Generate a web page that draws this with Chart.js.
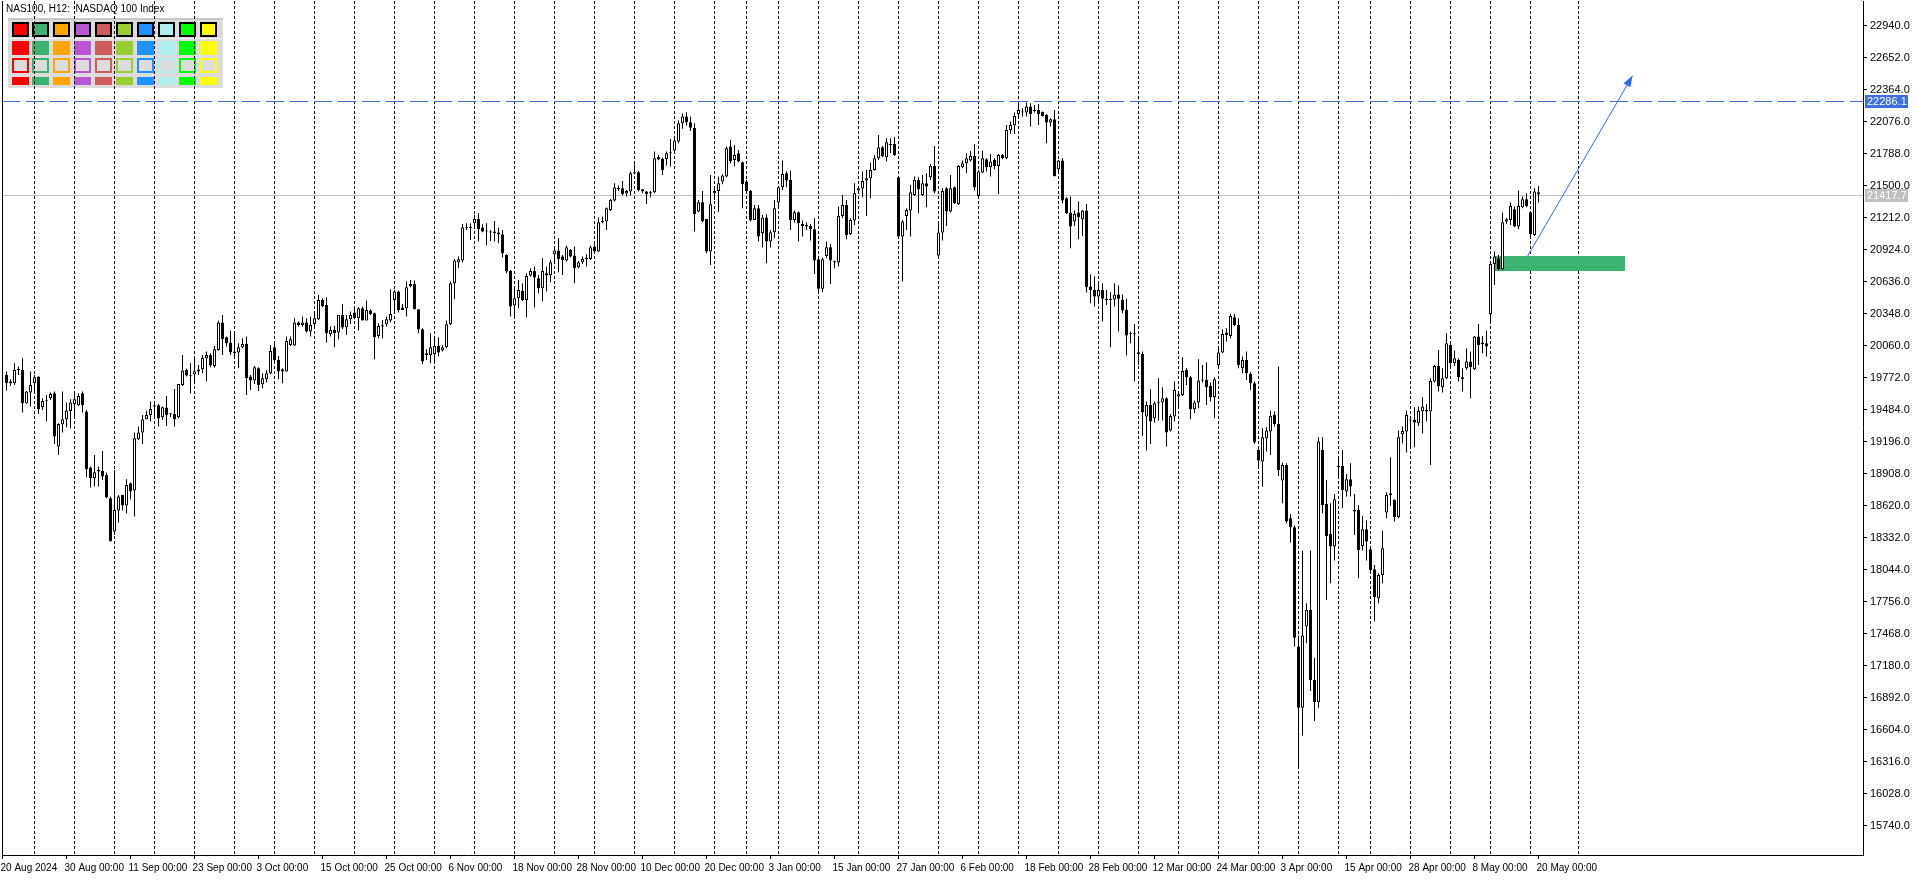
<!DOCTYPE html>
<html><head><meta charset="utf-8">
<script src="https://cdn.jsdelivr.net/npm/chart.js@4.4.1/dist/chart.umd.min.js"></script>
<style>html,body{margin:0;padding:0;background:#fff;overflow:hidden}#wrap{position:relative;width:1916px;height:880px;background:#fff}</style>
</head><body><div id="wrap"><canvas id="c" width="1916" height="880"></canvas></div>
<script>
// ---------- DATA ----------
const symbolTitle = "NAS100, H12:  NASDAQ 100 Index";
const opens = [
19795,19735,19720,19840,19840,19540,19636,19720,19780,19504,
19562,19585,19630,19150,19351,19396,19471,19534,19522,19630,
19465,18961,18865,18925,18931,18895,18685,18385,18574,18715,
18619,18820,18754,19216,19276,19396,19435,19510,19522,19414,
19501,19444,19444,19414,19705,19840,19792,19798,19825,19846,
19945,19975,19876,20020,20266,20134,20086,20005,19996,20044,
20074,19780,19744,19855,19711,19756,19810,20044,19930,19846,
19825,20065,20059,20266,20245,20266,20185,20254,20296,20470,
20425,20164,20200,20176,20335,20224,20296,20356,20305,20395,
20284,20374,20350,20146,20230,20251,20284,20470,20545,20401,
20395,20614,20614,20386,20206,19990,19975,19984,20056,20014,
20044,20251,20620,20806,20824,21124,21118,21160,21199,21121,
21091,21085,21085,21076,21061,20875,20731,20419,20485,20551,
20470,20689,20731,20665,20575,20710,20695,20881,20914,20860,
20824,20920,20869,20764,20809,20851,20839,20950,20905,21181,
21175,21280,21364,21469,21475,21427,21445,21607,21619,21466,
21445,21439,21439,21757,21739,21739,21790,21814,21895,22060,
22120,22070,22020,21265,21349,21199,20905,21430,21451,21535,
21580,21850,21730,21790,21709,21535,21451,21190,21295,21070,
21211,20995,21079,21346,21484,21610,21550,21190,21259,21154,
21145,21136,21106,20836,20570,20866,20944,20818,20806,21226,
21325,21064,21184,21454,21472,21544,21565,21640,21745,21844,
21754,21865,21874,21574,21040,21226,21274,21415,21550,21415,
21520,21574,21676,20869,21076,21475,21265,21484,21334,21664,
21700,21724,21766,21406,21616,21736,21664,21730,21676,21775,
21745,22000,22042,22144,22156,22156,22210,22171,22180,22162,
22135,22066,22096,21646,21724,21385,21256,21175,21256,21196,
21274,20590,20560,20500,20560,20480,20470,20475,20520,20470,
20380,20170,20161,19999,19984,19420,19525,19405,19540,19546,
19585,19294,19420,19600,19615,19840,19774,19486,19546,19744,
19750,19696,19594,19885,19996,20176,20146,20314,20245,19855,
19930,19804,19720,19120,19015,19225,19285,19435,19354,18844,
18985,18505,18424,17350,16800,17530,17680,17050,16850,19120,
18634,18364,18250,18976,18976,18745,18856,18580,18580,18256,
18406,18226,18046,17785,17995,18556,18712,18670,18514,19261,
19285,19384,19390,19360,19465,19480,19465,19735,19876,19684,
19765,20065,19900,19930,19774,19855,19915,19846,20140,20074,
20080,20344,20794,20845,20746,21175,21190,21286,21130,21304,
21376,21259,21055,21439];
const highs = [
19825,19756,19900,19870,19945,19650,19825,19795,19780,19585,
19615,19636,19645,19360,19645,19546,19576,19636,19630,19645,
19480,18970,19075,18970,19111,18916,18700,18940,18715,18715,
18856,18826,19276,19330,19435,19474,19555,19555,19534,19510,
19606,19450,19669,19714,19975,19852,19900,19960,19885,19975,
20005,19990,20056,20284,20335,20140,20194,20185,20080,20125,
20140,19795,19876,19864,19810,19840,20065,20095,19966,19855,
20140,20140,20305,20275,20320,20305,20320,20350,20515,20485,
20494,20230,20236,20335,20434,20335,20365,20410,20404,20410,
20464,20386,20356,20260,20290,20320,20566,20560,20554,20434,
20635,20650,20644,20386,20215,20026,20170,20134,20134,20065,
20284,20635,20836,20860,21154,21160,21160,21235,21250,21151,
21160,21100,21181,21121,21100,20881,20740,20575,20650,20620,
20710,20755,20770,20695,20845,20770,20830,20950,21025,20875,
20959,20929,20950,20821,20860,20881,20959,20971,21211,21220,
21301,21379,21520,21499,21541,21460,21625,21691,21631,21469,
21451,21451,21805,21775,21751,21805,21919,21925,22085,22150,
22160,22120,22060,21370,21451,21199,21595,21475,21580,21601,
21850,21910,21865,21820,21715,21550,21460,21325,21325,21235,
21241,21100,21370,21496,21724,21625,21634,21274,21265,21184,
21166,21154,21205,20845,20850,20995,20974,20824,21310,21415,
21370,21205,21520,21490,21625,21640,21706,21775,21955,21856,
21925,21925,21934,21586,21190,21295,21505,21580,21574,21595,
21610,21694,21856,21154,21475,21484,21595,21490,21685,21724,
21790,21811,21874,21640,21814,21745,21784,21745,21784,21784,
22045,22075,22156,22234,22195,22246,22240,22225,22234,22165,
22144,22105,22180,21730,21745,21394,21400,21274,21355,21280,
21334,20700,20680,20620,20620,20560,20540,20620,20600,20520,
20480,20185,20254,20125,20005,19555,19666,19555,19765,19684,
19594,19444,19735,19630,19954,19855,19786,19564,19936,19885,
19906,19726,19774,20035,20206,20215,20344,20344,20305,19960,
20005,19819,19735,19126,19315,19324,19474,19465,19870,19006,
19000,18544,18440,17450,18214,17740,18214,17250,19234,19234,
18850,18640,18724,19045,19120,18904,19000,18724,18625,18526,
18484,18235,18085,18010,18394,18736,19054,18676,19294,19330,
19474,19396,19504,19510,19594,19534,19765,19885,20020,19855,
20170,20095,20014,19945,19855,20035,20005,20146,20254,20146,
20194,20806,20905,20875,21256,21205,21346,21310,21454,21400,
21430,21265,21475,21496];
const lows = [
19654,19696,19705,19795,19456,19535,19510,19630,19444,19480,
19375,19570,19174,19075,19276,19324,19315,19405,19516,19456,
18874,18781,18790,18790,18850,18685,18295,18355,18466,18574,
18550,18676,18520,19210,19174,19396,19375,19396,19330,19390,
19336,19414,19330,19405,19696,19780,19630,19735,19795,19810,
19735,19864,19861,20014,19975,20050,19975,19945,19855,20035,
19615,19660,19714,19651,19675,19726,19801,19915,19756,19720,
19825,20056,20056,20230,20230,20176,20140,20230,20290,20404,
20086,20140,20044,20116,20206,20155,20254,20296,20194,20284,
20284,20335,19936,20125,20125,20230,20266,20356,20356,20380,
20320,20584,20386,20170,19894,19930,19900,19906,19960,20005,
20035,20245,20476,20755,20806,21100,21010,21130,20995,21079,
20959,21001,20995,20980,20851,20710,20320,20320,20395,20461,
20311,20680,20401,20530,20455,20545,20629,20800,20719,20695,
20815,20854,20620,20755,20794,20770,20830,20905,20899,21160,
21100,21271,21355,21451,21409,21400,21409,21601,21445,21430,
21334,21391,21430,21727,21595,21679,21670,21799,21880,22010,
22040,21990,21085,21259,21169,20890,20785,21370,21259,21511,
21571,21700,21670,21709,21295,21445,21175,21190,20995,20941,
20800,20941,21025,21295,21460,21484,21100,21166,20995,21040,
21100,21004,20704,20530,20540,20845,20614,20755,20770,21205,
21016,21055,21145,21445,21394,21226,21385,21634,21730,21754,
21715,21790,21766,21034,20635,21100,21040,21406,21250,21406,
21304,21550,21430,20866,21004,21136,21256,21334,21325,21655,
21610,21715,21454,21406,21610,21625,21580,21646,21424,21736,
21736,21964,21964,22105,22120,22120,22030,22156,22045,22120,
21880,22030,21580,21616,21340,21244,20935,21136,21016,21046,
20536,20440,20410,20460,20275,20425,20044,20410,20185,20350,
19969,20080,19735,19885,19246,19114,19174,19366,19384,19384,
19150,19285,19375,19510,19606,19705,19396,19450,19495,19726,
19525,19555,19405,19876,19990,20095,20125,20236,19855,19810,
19750,19660,19174,18976,18790,19105,19075,19330,18886,18640,
18460,18286,17350,16264,16550,17380,16950,16680,16800,18550,
17770,17920,18124,18880,18595,18700,18700,18355,17965,18214,
18124,18010,17575,17740,17920,18505,18616,18475,18505,19180,
19096,19144,19144,19336,19270,19375,18985,19726,19645,19636,
19756,19870,19876,19735,19645,19840,19585,19840,19885,19990,
19960,20266,20605,20734,20740,21154,21145,21124,21106,21295,
21304,21025,21046,21346];
const closes = [
19720,19720,19840,19842,19540,19645,19705,19774,19486,19561,
19566,19624,19240,19354,19396,19474,19546,19576,19606,19525,
18946,18865,18919,18940,18880,18691,18301,18580,18700,18619,
18805,18745,19225,19276,19396,19435,19489,19522,19402,19504,
19435,19442,19396,19714,19834,19789,19783,19828,19843,19948,
19975,19879,20026,20266,20119,20080,19996,19990,20044,20074,
19765,19744,19864,19705,19765,19810,20011,19930,19825,19825,
20101,20116,20266,20245,20266,20185,20245,20305,20470,20410,
20170,20200,20170,20335,20221,20296,20335,20305,20395,20284,
20380,20344,20134,20236,20242,20296,20344,20545,20380,20380,
20584,20596,20386,20206,19915,19975,20044,20056,19996,20044,
20251,20620,20824,20836,21124,21115,21124,21199,21109,21085,
21085,21076,21070,21061,20890,20725,20410,20485,20560,20470,
20686,20731,20671,20575,20731,20689,20809,20914,20839,20830,
20944,20860,20755,20809,20839,20839,20944,20905,21169,21169,
21295,21370,21484,21475,21424,21451,21610,21619,21460,21445,
21421,21427,21745,21733,21640,21790,21799,21904,22060,22120,
22070,22020,21241,21349,21181,20905,21331,21451,21520,21589,
21835,21721,21775,21715,21511,21451,21190,21295,21040,21211,
20995,21079,21295,21484,21604,21544,21190,21259,21160,21136,
21130,21106,20824,20570,20836,20944,20824,20806,21226,21325,
21055,21190,21430,21475,21541,21565,21640,21745,21844,21760,
21889,21874,21775,21040,21175,21280,21439,21550,21466,21520,
21490,21676,21445,21076,21451,21265,21475,21340,21676,21700,
21745,21766,21484,21625,21745,21664,21715,21676,21775,21745,
22000,22045,22126,22180,22165,22210,22144,22180,22144,22126,
22066,22096,21586,21724,21364,21250,21130,21244,21214,21274,
20584,20560,20500,20560,20480,20470,20475,20520,20480,20374,
20149,20161,20170,19984,19456,19525,19375,19540,19549,19585,
19276,19426,19660,19621,19831,19774,19486,19546,19744,19750,
19684,19594,19756,19996,20164,20155,20326,20245,19885,19930,
19810,19720,19186,19024,19234,19294,19426,19354,18940,18985,
18475,18424,17430,16800,17450,17680,17050,16850,19195,18625,
18346,18250,18676,18964,18760,18856,18790,18565,18220,18406,
18295,18040,17794,17995,18235,18715,18730,18514,19234,19291,
19435,19390,19366,19471,19510,19465,19741,19876,19696,19765,
20080,19900,19945,19774,19756,19915,19864,20140,20065,20086,
20050,20794,20860,20746,21169,21196,21316,21130,21316,21376,
21316,21064,21445,21418];

const priceTicks = [22940,22652,22364,22076,21788,21500,21212,20924,20636,20348,20060,19772,19484,19196,18908,18620,18332,18044,17756,17468,17180,16892,16604,16316,16028,15740];
const dateLabels = ["20 Aug 2024","30 Aug 00:00","11 Sep 00:00","23 Sep 00:00","3 Oct 00:00","15 Oct 00:00","25 Oct 00:00","6 Nov 00:00","18 Nov 00:00","28 Nov 00:00","10 Dec 00:00","20 Dec 00:00","3 Jan 00:00","15 Jan 00:00","27 Jan 00:00","6 Feb 00:00","18 Feb 00:00","28 Feb 00:00","12 Mar 00:00","24 Mar 00:00","3 Apr 00:00","15 Apr 00:00","28 Apr 00:00","8 May 00:00","20 May 00:00"];
const dateLabelBars = [-1,15,31,47,63,79,95,111,127,143,159,175,191,207,223,239,255,271,287,303,319,335,351,367,383];
const weekStartBars = [7,17,27,37,47,57,67,77,87,97,107,117,127,137,147,157,167,177,185,193,203,213,223,233,243,253,263,273,283,293,303,313,323,333,341,351,361,371,381,393];
const resistanceLinePrice = 22260;      // where the dashed line sits on the price scale
const resistanceTag = "22286.1";        // text of its price tag
const lastPrice = 21417.7;
const demandZone = {fromBar: 372.2, toBar: 404.8, low: 20733, high: 20866};
const projection = {fromBar: 380.2, fromPrice: 20860, toBar: 406.5, toPrice: 22487};
const panelColors = ["#ff0000","#3cb371","#ffa500","#ba55d3","#cd5c5c","#9acd32","#1e90ff","#afeeee","#00ff00","#ffff00"];

// ---------- LAYOUT ----------
const W = 1916, H = 880;
const PLOT_LEFT = 2, PLOT_TOP = 1, AXIS_W = 53, AXIS_H = 25;
const BAR_PX = 4, FIRST_BAR_PX = 6.5;
const xMin = (PLOT_LEFT - FIRST_BAR_PX) / BAR_PX;
const xMax = xMin + (W - AXIS_W - PLOT_LEFT) / BAR_PX;
const PPP = 9, REF_PRICE = 22940, REF_Y = 25.5;
const yMax = REF_PRICE + (REF_Y - PLOT_TOP) * PPP;
const yMin = REF_PRICE - ((H - AXIS_H) - REF_Y) * PPP;
const FONT_FAMILY = '"Liberation Sans", Arial, sans-serif';
const LEVEL_BLUE = '#3d6de0';

const idx = opens.map((_, i) => i);
const wickData = idx.map(i => ({x: i, y: [lows[i], highs[i]]}));
const bodyData = idx.map(i => ({x: i, y: [opens[i], closes[i]]}));
const bodyFill = idx.map(i => closes[i] >= opens[i] ? '#ffffff' : '#000000');

function zeroPad(s) { s.paddingLeft = 0; s.paddingRight = 0; s.paddingTop = 0; s.paddingBottom = 0; }

const decor = {
  id: 'decor',
  beforeDraw(chart) {
    const ctx = chart.ctx;
    ctx.save();
    ctx.fillStyle = '#fff';
    ctx.fillRect(0, 0, W, H);
    ctx.fillStyle = '#dcdcdc';
    ctx.fillRect(8, 18, 215, 70);
    ctx.fillStyle = '#c8c8c8';
    ctx.fillRect(8, 18, 215, 2);
    ctx.fillStyle = '#f0f0f0';
    ctx.fillRect(8, 38, 215, 1);
    panelColors.forEach((c, k) => {
      const x = Math.round(11.5 + k * 20.9);
      ctx.fillStyle = '#000';
      ctx.fillRect(x, 22, 17, 15);
      ctx.fillStyle = c;
      ctx.fillRect(x + 2, 24, 13, 11);
      ctx.fillStyle = c;
      ctx.fillRect(x, 41, 17, 14);
      ctx.fillStyle = c;
      ctx.fillRect(x, 58, 17, 15);
      ctx.fillStyle = '#dcdcdc';
      ctx.fillRect(x + 2, 60, 13, 11);
      ctx.fillStyle = c;
      ctx.fillRect(x, 77, 17, 8);
    });
    ctx.fillStyle = '#000';
    ctx.font = '10px ' + FONT_FAMILY;
    ctx.textBaseline = 'middle';
    ctx.textAlign = 'left';
    ctx.fillText(symbolTitle, 6, 9);
    ctx.restore();
  },
  beforeDatasetsDraw(chart) {
    const {ctx, chartArea: ca, scales: {x, y}} = chart;
    ctx.save();
    ctx.lineWidth = 1;
    ctx.strokeStyle = '#c0c0c0';
    let py = Math.round(y.getPixelForValue(lastPrice)) + 0.5;
    ctx.beginPath(); ctx.moveTo(ca.left, py); ctx.lineTo(ca.right, py); ctx.stroke();
    ctx.strokeStyle = LEVEL_BLUE;
    ctx.setLineDash([18, 6]);
    py = Math.round(y.getPixelForValue(resistanceLinePrice)) + 0.5;
    ctx.beginPath(); ctx.moveTo(ca.left, py); ctx.lineTo(ca.right, py); ctx.stroke();
    ctx.setLineDash([]);
    ctx.fillStyle = '#3cb371';
    const x0 = x.getPixelForValue(demandZone.fromBar), x1 = x.getPixelForValue(demandZone.toBar);
    const y0 = y.getPixelForValue(demandZone.high), y1 = y.getPixelForValue(demandZone.low);
    ctx.fillRect(Math.round(x0), Math.round(y0), Math.round(x1 - x0), Math.round(y1 - y0));
    ctx.restore();
  },
  afterDatasetsDraw(chart) {
    const {ctx, scales: {x, y}} = chart;
    const x0 = x.getPixelForValue(projection.fromBar), y0 = y.getPixelForValue(projection.fromPrice);
    const x1 = x.getPixelForValue(projection.toBar), y1 = y.getPixelForValue(projection.toPrice);
    ctx.save();
    ctx.strokeStyle = '#2f6bf0';
    ctx.lineWidth = 1;
    ctx.beginPath(); ctx.moveTo(x0, y0); ctx.lineTo(x1, y1); ctx.stroke();
    const a = Math.atan2(y1 - y0, x1 - x0), L = 11, w = 4;
    ctx.fillStyle = '#2f6bf0';
    ctx.beginPath();
    ctx.moveTo(x1, y1);
    ctx.lineTo(x1 - L * Math.cos(a) + w * Math.sin(a), y1 - L * Math.sin(a) - w * Math.cos(a));
    ctx.lineTo(x1 - L * Math.cos(a) - w * Math.sin(a), y1 - L * Math.sin(a) + w * Math.cos(a));
    ctx.closePath(); ctx.fill();
    ctx.restore();
  },
  afterDraw(chart) {
    const {ctx, chartArea: ca, scales: {y}} = chart;
    ctx.save();
    ctx.strokeStyle = '#000';
    ctx.lineWidth = 1;
    ctx.beginPath();
    ctx.moveTo(ca.left + 0.5, ca.top); ctx.lineTo(ca.left + 0.5, ca.bottom);
    ctx.stroke();
    ctx.font = '11px ' + FONT_FAMILY;
    ctx.textBaseline = 'middle';
    ctx.textAlign = 'left';
    [[resistanceLinePrice, resistanceTag, LEVEL_BLUE], [lastPrice, lastPrice.toFixed(1), '#c0c0c0']].forEach(([v, txt, col]) => {
      const py = Math.round(y.getPixelForValue(v));
      ctx.fillStyle = col;
      ctx.fillRect(ca.right + 2, py - 6, 43, 13);
      ctx.fillStyle = '#fff';
      ctx.fillText(txt, ca.right + 4, py + 0.5);
    });
    ctx.restore();
  }
};

new Chart(document.getElementById('c'), {
  data: {
    datasets: [
      {type: 'bar', label: 'wicks', data: wickData, backgroundColor: '#000', borderWidth: 0,
       barThickness: 1, minBarLength: 1, grouped: false, inflateAmount: 0, order: 2},
      {type: 'bar', label: 'bodies', data: bodyData, backgroundColor: bodyFill, borderColor: '#000',
       borderWidth: 1, borderSkipped: false, barThickness: 3, minBarLength: 1, grouped: false, inflateAmount: 0, order: 1}
    ]
  },
  options: {
    responsive: false,
    animation: false,
    devicePixelRatio: 1,
    layout: {padding: {left: PLOT_LEFT, top: PLOT_TOP, right: 0, bottom: 0}},
    plugins: {legend: {display: false}, tooltip: {enabled: false}},
    scales: {
      x: {
        type: 'linear', position: 'bottom', min: xMin, max: xMax, bounds: 'data', offset: false,
        afterFit(s) { s.height = AXIS_H; zeroPad(s); },
        afterBuildTicks(s) { s.ticks = dateLabelBars.map(v => ({value: v})); },
        ticks: {autoSkip: false, maxRotation: 0, minRotation: 0, align: 'start', labelOffset: -2, padding: 3,
                color: '#000', font: {family: FONT_FAMILY, size: 10},
                callback: (v, i) => dateLabels[i]},
        grid: {offset: false, drawOnChartArea: false, drawTicks: true, tickLength: 4, color: '#000'},
        border: {display: true, color: '#000'}
      },
      xg: {
        type: 'linear', position: 'top', min: xMin, max: xMax, bounds: 'data', offset: false,
        afterFit(s) { s.height = 0; zeroPad(s); },
        afterBuildTicks(s) { s.ticks = weekStartBars.map(v => ({value: v})); },
        ticks: {display: false},
        grid: {offset: false, drawOnChartArea: true, drawTicks: false, color: '#000', lineWidth: 1},
        border: {display: false, dash: [3, 2]}
      },
      y: {
        type: 'linear', position: 'right', min: yMin, max: yMax, bounds: 'data', offset: false,
        afterFit(s) { s.width = AXIS_W; zeroPad(s); },
        afterBuildTicks(s) { s.ticks = priceTicks.map(v => ({value: v})); },
        ticks: {padding: 3, color: '#000', font: {family: FONT_FAMILY, size: 11}, callback: v => v.toFixed(1)},
        grid: {drawOnChartArea: false, drawTicks: true, tickLength: 4, color: '#000'},
        border: {display: true, color: '#000'}
      }
    }
  },
  plugins: [decor]
});
</script></body></html>
